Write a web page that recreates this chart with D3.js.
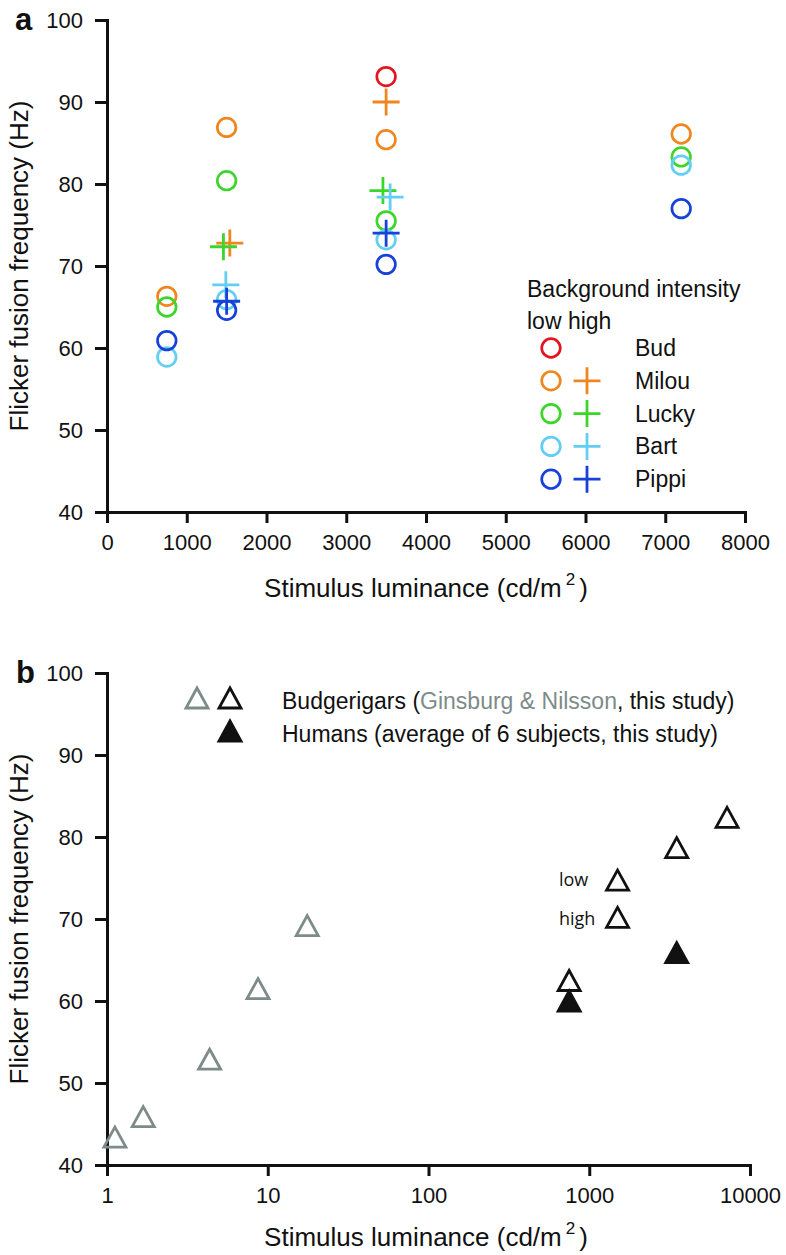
<!DOCTYPE html>
<html>
<head>
<meta charset="utf-8">
<script src="https://cdn.jsdelivr.net/npm/d3@7"></script>
<style>
  html, body { margin: 0; padding: 0; background: #fff; }
  svg text { font-family: "Liberation Sans", Arial, sans-serif; fill: #111; }
</style>
</head>
<body>
<svg id="chart" width="786" height="1255"></svg>
<script>
// ---------- DATA: panel a ----------
const birds = ["Bud", "Milou", "Lucky", "Bart", "Pippi"];
const birdColors = ["#e3161f", "#f0861f", "#3cd62b", "#62cff2", "#1741d8"];
const lowLuminance = [750, 1500, 3500, 7200];
// low background intensity (circles), per bird, aligned with lowLuminance
const lowBud   = [null, null, 93.1, null];
const lowMilou = [66.3, 86.9, 85.4, 86.1];
const lowLucky = [65.0, 80.4, 75.5, 83.3];
const lowBart  = [58.9, 65.9, 73.2, 82.3];
const lowPippi = [60.9, 64.6, 70.2, 77.0];
// high background intensity (crosses)
const highLumMilou = [1540, 3500], highMilou = [72.8, 90.0];
const highLumLucky = [1460, 3460], highLucky = [72.35, 79.2];
const highLumBart  = [1490, 3550], highBart  = [67.7, 78.4];
const highLumPippi = [1500, 3500], highPippi = [65.7, 74.0];
const xTicksA = [0, 1000, 2000, 3000, 4000, 5000, 6000, 7000, 8000];
const yTicks = [40, 50, 60, 70, 80, 90, 100];

// ---------- DATA: panel b ----------
const ginsburgLum = [1.12, 1.68, 4.35, 8.7, 17.6];
const ginsburgFF  = [43.4, 45.9, 52.9, 61.5, 69.2];
const budgieLum = [750, 1500, 1500, 3500, 7200];
const budgieFF  = [62.5, 74.75, 70.2, 78.7, 82.4];
const humanLum = [750, 3500];
const humanFF  = [60.0, 65.9];
const xTicksB = [1, 10, 100, 1000, 10000];

const svg = d3.select("#chart");
const grey = "#7d8b89";
const TITLE = "26px", TICK = "22px", LEG = "23px";

// ---------- Panel a ----------
const L = 107, R = 745;
const xA = d3.scaleLinear().domain([0, 8000]).range([L, R]);
const yA = d3.scaleLinear().domain([40, 100]).range([512, 20]);

function styleAxis(g) {
  g.select(".domain").attr("stroke", "#111").attr("stroke-width", 3).attr("stroke-linecap", "square");
  g.selectAll(".tick line").attr("stroke", "#111").attr("stroke-width", 3);
  g.selectAll(".tick text").style("font-size", TICK).attr("fill", "#111").style("font-family", '"Liberation Sans", Arial, sans-serif');
}

const gA = svg.append("g");
gA.append("g").attr("transform", `translate(0,${yA(40)})`)
  .call(d3.axisBottom(xA).tickValues(xTicksA).tickSize(11).tickSizeOuter(0).tickPadding(11).tickFormat(d3.format("d")))
  .call(styleAxis);
gA.append("g").attr("transform", `translate(${L},0)`)
  .call(d3.axisLeft(yA).tickValues(yTicks).tickSize(12).tickSizeOuter(0).tickPadding(12))
  .call(styleAxis);

const lowSeries = [lowBud, lowMilou, lowLucky, lowBart, lowPippi];
const highSeries = [null,
  {lum: highLumMilou, v: highMilou},
  {lum: highLumLucky, v: highLucky},
  {lum: highLumBart, v: highBart},
  {lum: highLumPippi, v: highPippi}];

const CR = 9.3, CS = 2.7, PH = 13.5, PS = 2.8;
function drawCircle(g, x, y, color) {
  g.append("circle").attr("cx", x).attr("cy", y).attr("r", CR)
    .attr("fill", "none").attr("stroke", color).attr("stroke-width", CS);
}
function drawPlus(g, x, y, color) {
  g.append("path").attr("d", `M${x - PH},${y}H${x + PH}M${x},${y - PH}V${y + PH}`)
    .attr("fill", "none").attr("stroke", color).attr("stroke-width", PS);
}

const marks = gA.append("g");
lowSeries.forEach((s, i) => {
  s.forEach((v, j) => { if (v != null) drawCircle(marks, xA(lowLuminance[j]), yA(v), birdColors[i]); });
});
highSeries.forEach((s, i) => {
  if (!s) return;
  s.v.forEach((v, j) => drawPlus(marks, xA(s.lum[j]), yA(v), birdColors[i]));
});

// legend a
const lg = gA.append("g");
lg.append("text").attr("x", 527).attr("y", 297).style("font-size", LEG).text("Background intensity");
lg.append("text").attr("x", 527).attr("y", 329).style("font-size", LEG).text("low high");
birds.forEach((b, i) => {
  const y = 348 + i * 32.8;
  drawCircle(lg, 551, y, birdColors[i]);
  if (i > 0) drawPlus(lg, 587, y, birdColors[i]);
  lg.append("text").attr("x", 635).attr("y", y + 8).style("font-size", LEG).text(b);
});

// titles a
gA.append("text").attr("x", 15).attr("y", 30).style("font-size", "31px").style("font-weight", "bold").text("a");
gA.append("text").attr("transform", `translate(28,${(yA(40) + yA(100)) / 2}) rotate(-90)`)
  .attr("text-anchor", "middle").style("font-size", TITLE).text("Flicker fusion frequency (Hz)");
function xTitle(g, y) {
  const t = g.append("text").attr("x", (L + R) / 2).attr("y", y).attr("text-anchor", "middle").style("font-size", TITLE);
  t.append("tspan").text("Stimulus luminance (cd/m");
  t.append("tspan").attr("dx", 4).attr("dy", -12).style("font-size", "17px").text("2");
  t.append("tspan").attr("dx", 4).attr("dy", 12).text(")");
}
xTitle(gA, 597);

// ---------- Panel b ----------
const xB = d3.scaleLog().domain([1, 10000]).range([L, 750]);
const yB = d3.scaleLinear().domain([40, 100]).range([1165, 673]);
const gB = svg.append("g");
gB.append("g").attr("transform", `translate(0,${yB(40)})`)
  .call(d3.axisBottom(xB).tickValues(xTicksB).tickSize(11).tickSizeOuter(0).tickPadding(11).tickFormat(d3.format("d")))
  .call(styleAxis);
gB.append("g").attr("transform", `translate(${L},0)`)
  .call(d3.axisLeft(yB).tickValues(yTicks).tickSize(12).tickSizeOuter(0).tickPadding(12))
  .call(styleAxis);

const TW = 11, TH = 10;
function tri(g, x, y, color, filled) {
  g.append("path").attr("d", `M${x},${y - TH}L${x + TW},${y + TH}L${x - TW},${y + TH}Z`)
    .attr("fill", filled ? color : "none").attr("stroke", color).attr("stroke-width", 2.8)
    .attr("stroke-linejoin", "miter");
}
const mb = gB.append("g");
ginsburgLum.forEach((d, i) => tri(mb, xB(d), yB(ginsburgFF[i]), grey, false));
budgieLum.forEach((d, i) => tri(mb, xB(d), yB(budgieFF[i]), "#111", false));
humanLum.forEach((d, i) => tri(mb, xB(d), yB(humanFF[i]), "#111", true));

// legend b
tri(gB, 197, 698, grey, false);
tri(gB, 230, 698, "#111", false);
tri(gB, 230, 731, "#111", true);
const t1 = gB.append("text").attr("x", 282).attr("y", 709).style("font-size", LEG);
t1.append("tspan").text("Budgerigars (");
t1.append("tspan").style("fill", grey).text("Ginsburg & Nilsson");
t1.append("tspan").text(", this study)");
gB.append("text").attr("x", 282).attr("y", 742).style("font-size", LEG).text("Humans (average of 6 subjects, this study)");
gB.append("text").attr("x", 559).attr("y", 886).style("font-size", "18px").style("font-family", '"Open Sans", sans-serif').text("low");
gB.append("text").attr("x", 559).attr("y", 925).style("font-size", "18px").style("font-family", '"Open Sans", sans-serif').text("high");

gB.append("text").attr("x", 16).attr("y", 683).style("font-size", "31px").style("font-weight", "bold").text("b");
gB.append("text").attr("transform", `translate(28,${(yB(40) + yB(100)) / 2}) rotate(-90)`)
  .attr("text-anchor", "middle").style("font-size", TITLE).text("Flicker fusion frequency (Hz)");
xTitle(gB, 1246);
</script>
</body>
</html>
